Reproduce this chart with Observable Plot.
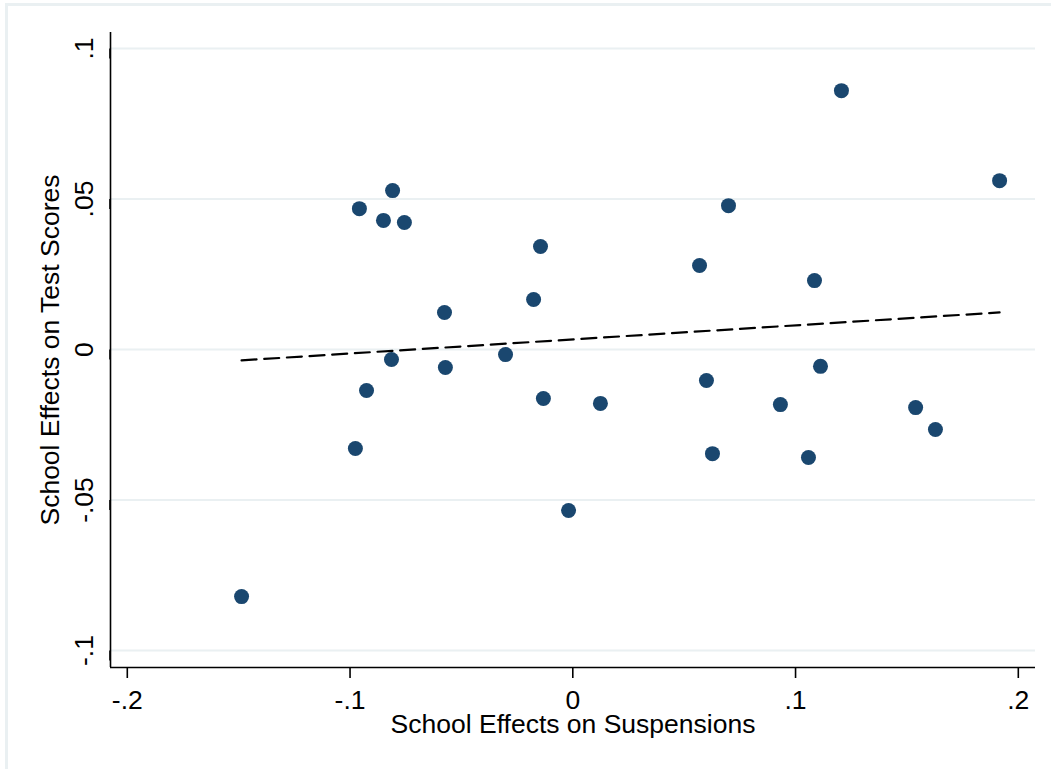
<!DOCTYPE html>
<html>
<head>
<meta charset="utf-8">
<script src="https://cdn.jsdelivr.net/npm/d3@7"></script>
<script src="https://cdn.jsdelivr.net/npm/@observablehq/plot@0.6"></script>
<style>
  html, body { margin: 0; padding: 0; background: #ffffff; }
  #wrap { position: relative; width: 1051px; height: 769px; overflow: hidden; }
  #border { position: absolute; left: 5px; top: 3px; width: 1100px; height: 800px;
            border-left: 3px solid #eaf0f2; border-top: 3px solid #eaf0f2; box-sizing: border-box; }
  #chart { position: absolute; left: 0; top: 0; }
</style>
</head>
<body>
<div id="wrap"><div id="border"></div><div id="chart"></div></div>
<script>
// School effects on suspensions (x) and on test scores (y)
const suspensions = [-0.1487,-0.0958,-0.0809,-0.0850,-0.0756,-0.0576,-0.0814,-0.0926,-0.0976,-0.0572,
  -0.0302,-0.0145,-0.0176,-0.0132,-0.0019,0.0124,0.0569,0.0699,0.0600,0.0627,
  0.0932,0.1085,0.1058,0.1112,0.1206,0.1539,0.1628,0.1916];
const testScores = [-0.0821,0.0468,0.0528,0.0429,0.0422,0.0123,-0.0033,-0.0136,-0.0329,-0.0060,
  -0.0017,0.0342,0.0166,-0.0163,-0.0535,-0.0179,0.0279,0.0478,-0.0103,-0.0346,
  -0.0183,0.0229,-0.0359,-0.0056,0.0860,-0.0193,-0.0266,0.0561];
const xTicks = [-0.2, -0.1, 0, 0.1, 0.2];
const xTickLabels = ["-.2", "-.1", "0", ".1", ".2"];
const yTicks = [-0.1, -0.05, 0, 0.05, 0.1];
const yTickLabels = ["-.1", "-.05", "0", ".05", ".1"];
const xTitle = "School Effects on Suspensions";
const yTitle = "School Effects on Test Scores";
const xDomain = [-0.20754, 0.20772];
const yDomain = [-0.10565, 0.10532];

const data = suspensions.map((s, i) => ({x: s, y: testScores[i]}));
const font = "'Liberation Sans', Arial, Helvetica, sans-serif";

const chart = Plot.plot({
  width: 1051,
  height: 769,
  marginLeft: 110,
  marginRight: 16,
  marginTop: 32,
  marginBottom: 102,
  style: {background: "transparent", fontFamily: font, color: "#000", overflow: "visible"},
  x: {domain: xDomain},
  y: {domain: yDomain},
  marks: [
    Plot.gridY(yTicks, {stroke: "#eaf0f2", strokeOpacity: 1, strokeWidth: 2}),
    Plot.ruleX([xDomain[0]], {stroke: "#000", strokeWidth: 1.6}),
    Plot.ruleY([yDomain[0]], {stroke: "#000", strokeWidth: 1.6}),
    Plot.axisX(xTicks, {
      tickFormat: d => xTickLabels[xTicks.indexOf(d)],
      tickSize: 11, tickPadding: 12, fontSize: 26.5,
      stroke: "#000", strokeWidth: 1.6, fill: "#000",
      label: xTitle, labelAnchor: "center", labelOffset: 65, labelArrow: "none"
    }),
    Plot.axisY(yTicks, {
      tickFormat: d => yTickLabels[yTicks.indexOf(d)],
      tickSize: 10, tickPadding: 8, fontSize: 26.5,
      rotate: -90, textAnchor: "middle", lineAnchor: "bottom",
      stroke: "#000", strokeWidth: 1.6, fill: "#000",
      label: yTitle, labelAnchor: "center", labelOffset: 70, labelArrow: "none"
    }),
    Plot.dot(data, {x: "x", y: "y", r: 7.5, fill: "#1a476f", stroke: "none"}),
    Plot.linearRegressionY(data, {x: "x", y: "y", ci: 0, stroke: "#000", strokeWidth: 2.2, strokeDasharray: "15,7.7"})
  ]
});
document.getElementById("chart").appendChild(chart);
</script>
</body>
</html>
